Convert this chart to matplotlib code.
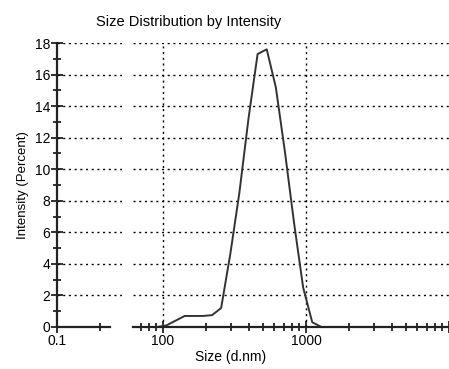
import numpy as np
import matplotlib
matplotlib.use("Agg")
import matplotlib.pyplot as plt
from matplotlib.ticker import FixedLocator, NullFormatter, FixedFormatter

# size bins (d.nm) and intensity (%)
sizes = [91.28, 105.7, 122.4, 141.8, 164.2, 190.1, 220.2, 255.0, 295.3, 342.0,
         396.1, 458.7, 531.2, 615.1, 712.4, 825.0, 955.4, 1106, 1281, 1484,
         1718, 1990, 2305, 2669, 3091, 3580, 4145, 4801, 5560, 6439, 7456,
         8635, 10000]
intensity = [0, 0.1, 0.4, 0.7, 0.7, 0.7, 0.75, 1.2, 4.6, 8.5,
             13.2, 17.3, 17.6, 15.2, 11.1, 6.6, 2.5, 0.3, 0, 0,
             0, 0, 0, 0, 0, 0, 0, 0, 0, 0, 0,
             0, 0]

y_major = [0, 2, 4, 6, 8, 10, 12, 14, 16, 18]
y_minor = [1, 3, 5, 7, 9, 11, 13, 15, 17]
left_major = [0.1]
left_minor = [0.2]
right_major = [100, 1000, 10000]
right_labels = ["100", "1000", ""]

plt.rcParams['font.family'] = ['Liberation Sans', 'DejaVu Sans']

W, H = 449, 369
fig = plt.figure(figsize=(W / 100, H / 100), dpi=100)

def px(x0, x1, y0=43, y1=327):
    return [x0 / W, 1 - y1 / H, (x1 - x0) / W, (y1 - y0) / H]

grid_kw = dict(color="black", lw=1.0, ls=(0, (1.5, 2.6)))
ink = "#222222"

# left piece of the broken axis (0.1 ... ~0.28)
axl = fig.add_axes(px(57, 122))
axl.set_xscale("log")
axl.set_xlim(0.1, 0.285)
axl.set_ylim(0, 18)
axl.xaxis.set_major_locator(FixedLocator(left_major))
axl.xaxis.set_major_formatter(FixedFormatter(["0.1"]))
axl.xaxis.set_minor_locator(FixedLocator(left_minor))
axl.xaxis.set_minor_formatter(NullFormatter())
axl.set_yticks(y_major)
axl.set_yticks(y_minor, minor=True)
for y in y_major[1:]:
    axl.axhline(y, **grid_kw)
for s in ["top", "right"]:
    axl.spines[s].set_visible(False)
axl.spines["bottom"].set_bounds(0.1, 0.235)
for s in ["left", "bottom"]:
    axl.spines[s].set_linewidth(1.6)
    axl.spines[s].set_color(ink)
axl.tick_params(which="both", direction="inout", width=1.3, color=ink,
                labelsize=10, pad=1)
axl.tick_params(which="major", length=8)
axl.tick_params(which="minor", length=6)
axl.set_ylabel("Intensity (Percent)", fontsize=9.5, labelpad=4)

# right piece (~60 ... 10000)
axr = fig.add_axes(px(133, 449))
axr.set_xscale("log")
axr.set_xlim(61.7, 10000)
axr.set_ylim(0, 18)
axr.xaxis.set_major_locator(FixedLocator(right_major))
axr.xaxis.set_major_formatter(FixedFormatter(right_labels))
axr.xaxis.set_minor_formatter(NullFormatter())
axr.set_yticks([])
for y in y_major[1:]:
    axr.axhline(y, **grid_kw)
for x in right_major[:2]:
    axr.axvline(x, **grid_kw)
for s in ["top", "right", "left"]:
    axr.spines[s].set_visible(False)
axr.spines["bottom"].set_linewidth(1.6)
axr.spines["bottom"].set_color(ink)
axr.tick_params(which="both", direction="inout", width=1.3, color=ink,
                labelsize=10, pad=1)
axr.tick_params(which="major", length=8)
axr.tick_params(which="minor", length=6)
axr.plot(sizes, intensity, color="#333333", lw=1.4)

fig.text(189 / W, 1 - 22 / H, "Size Distribution by Intensity",
         ha="center", va="center", fontsize=10.5)
fig.text(231 / W, 1 - 357 / H, "Size (d.nm)", ha="center", va="center",
         fontsize=10)

fig.savefig("out.png", dpi=100)
